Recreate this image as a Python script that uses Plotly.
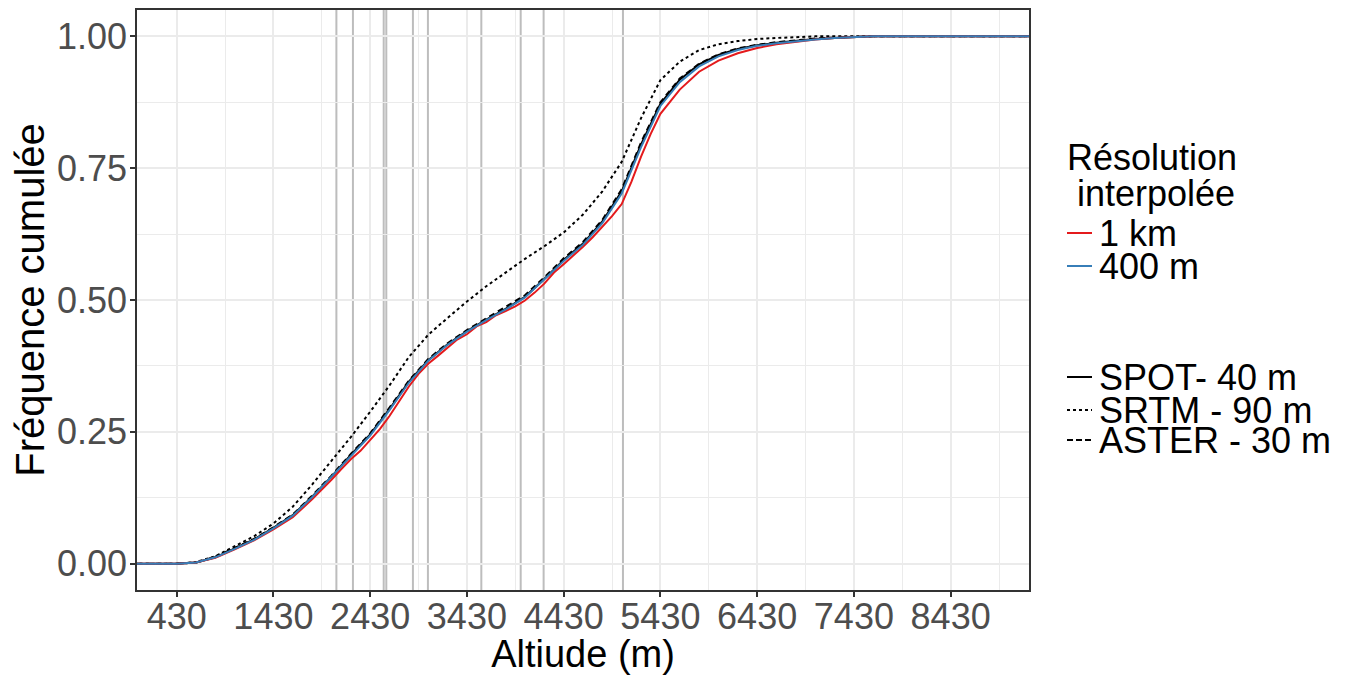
import plotly.graph_objects as go

# ---- data ----
altitude = [-200, 430, 630, 830, 1030, 1230, 1430, 1630, 1830, 2030, 2230, 2430, 2630,
            2830, 3030, 3230, 3430, 3630, 3830, 4030, 4230, 4430, 4630, 4830, 5030,
            5230, 5430, 5630, 5830, 6030, 6230, 6430, 6630, 6830, 7030, 7230, 7430,
            7630, 8430, 9500]

spot_40m = [0, 0, 0.002, 0.012, 0.029, 0.046, 0.068, 0.092, 0.127, 0.165, 0.206, 0.245,
            0.293, 0.345, 0.386, 0.416, 0.441, 0.463, 0.483, 0.506, 0.540, 0.576, 0.607,
            0.649, 0.706, 0.795, 0.872, 0.918, 0.947, 0.965, 0.976, 0.983, 0.988, 0.992,
            0.995, 0.997, 0.999, 1.0, 1.0, 1.0]

srtm_90m = [0, 0, 0.003, 0.014, 0.033, 0.052, 0.076, 0.108, 0.150, 0.195, 0.240, 0.288,
            0.338, 0.392, 0.434, 0.466, 0.497, 0.526, 0.552, 0.578, 0.602, 0.628, 0.662,
            0.706, 0.762, 0.845, 0.917, 0.952, 0.974, 0.985, 0.991, 0.995, 0.997, 0.999,
            1.0, 1.0, 1.0, 1.0, 1.0, 1.0]

aster_30m = [0, 0, 0.002, 0.013, 0.030, 0.047, 0.069, 0.093, 0.129, 0.167, 0.208, 0.247,
             0.296, 0.347, 0.388, 0.418, 0.443, 0.465, 0.486, 0.509, 0.543, 0.579, 0.610,
             0.652, 0.710, 0.799, 0.875, 0.920, 0.948, 0.966, 0.977, 0.984, 0.989, 0.993,
             0.996, 0.998, 0.999, 1.0, 1.0, 1.0]

res_400m = [0, 0, 0.002, 0.012, 0.028, 0.045, 0.067, 0.091, 0.126, 0.164, 0.204, 0.243,
            0.291, 0.343, 0.385, 0.415, 0.440, 0.462, 0.482, 0.505, 0.539, 0.574, 0.605,
            0.646, 0.702, 0.790, 0.868, 0.913, 0.943, 0.962, 0.974, 0.982, 0.987, 0.991,
            0.994, 0.997, 0.999, 1.0, 1.0, 1.0]

# the 1 km curve is noisier: read on a finer altitude step
altitude_1km = [-200, 430, 630, 830, 1030, 1230, 1430, 1630, 1830, 1930, 2030, 2130, 2230,
                2330, 2430, 2530, 2630, 2730, 2830, 2930, 3030, 3130, 3230, 3330, 3430,
                3530, 3630, 3730, 3830, 3930, 4030, 4130, 4230, 4330, 4430, 4530, 4630,
                4730, 4830, 4930, 5030, 5130, 5230, 5330, 5430, 5630, 5830, 6030, 6230,
                6430, 6630, 6830, 7030, 7230, 7430, 7630, 8430, 9500]
res_1km = [0, 0, 0.002, 0.011, 0.027, 0.044, 0.065, 0.088, 0.122, 0.140, 0.159, 0.179,
           0.198, 0.214, 0.234, 0.255, 0.280, 0.308, 0.336, 0.360, 0.379, 0.394, 0.409,
           0.425, 0.435, 0.450, 0.458, 0.471, 0.479, 0.488, 0.499, 0.514, 0.531, 0.552,
           0.568, 0.584, 0.601, 0.619, 0.639, 0.659, 0.682, 0.724, 0.772, 0.815, 0.853,
           0.899, 0.933, 0.954, 0.968, 0.978, 0.985, 0.990, 0.994, 0.997, 0.999, 1.0,
           1.0, 1.0]

reference_altitudes = [2081, 2252, 2570, 2597, 2872, 3027, 3579, 3986, 4223, 5043]

x_tickvals = [430, 1430, 2430, 3430, 4430, 5430, 6430, 7430, 8430]
y_tickvals = [0, 0.25, 0.5, 0.75, 1.0]
y_ticktext = ["0.00", "0.25", "0.50", "0.75", "1.00"]

legend_title_lines = ["Résolution", " interpolée"]
legend_items = [("1 km", "#E41A1C", "solid"),
                ("400 m", "#377EB8", "solid"),
                ("SPOT- 40 m", "#000000", "solid"),
                ("SRTM - 90 m", "#000000", "dot"),
                ("ASTER - 30 m", "#000000", "6px,3px")]

# ---- styles / layout geometry ----
FONT = "Liberation Sans, Arial, Helvetica, sans-serif"
GRID = "#EBEBEB"
W, H = 1349, 667               # page body adds an 8px margin
L, R, T, B = 129, 328, 2, 85
PW, PH = W - L - R, H - T - B

def px_x(px):   # page px -> paper x
    return (px - 8 - L) / PW

def px_y(py):   # page px -> paper y
    return (H - B - (py - 8)) / PH

fig = go.Figure()

fig.add_trace(go.Scatter(x=altitude, y=spot_40m, mode="lines", name="SPOT- 40 m",
                         line=dict(color="#000000", width=2, dash="solid"), showlegend=False))
fig.add_trace(go.Scatter(x=altitude, y=srtm_90m, mode="lines", name="SRTM - 90 m",
                         line=dict(color="#000000", width=2, dash="dot"), showlegend=False))
fig.add_trace(go.Scatter(x=altitude, y=aster_30m, mode="lines", name="ASTER - 30 m",
                         line=dict(color="#000000", width=2, dash="6px,4px"), showlegend=False))
fig.add_trace(go.Scatter(x=altitude_1km, y=res_1km, mode="lines", name="1 km",
                         line=dict(color="#E41A1C", width=2), showlegend=False))
fig.add_trace(go.Scatter(x=altitude, y=res_400m, mode="lines", name="400 m",
                         line=dict(color="#377EB8", width=2), showlegend=False))

for v in reference_altitudes:
    fig.add_shape(type="line", xref="x", yref="paper", x0=v, x1=v, y0=0, y1=1,
                  line=dict(color="#BDBDBD", width=2), layer="between")

# ---- legend (ggplot style, drawn with text annotations and key lines) ----
LEG_FS = 36
title_y = [157, 194]
for txt, ty in zip(legend_title_lines, title_y):
    fig.add_annotation(text=txt, xref="paper", yref="paper", x=px_x(1065), y=px_y(ty),
                       xanchor="left", yanchor="middle", showarrow=False,
                       font=dict(size=LEG_FS, color="black", family=FONT))
item_y = [233, 266, 377, 410, 440]
for (name, color, dash), iy in zip(legend_items, item_y):
    fig.add_shape(type="line", xref="paper", yref="paper",
                  x0=px_x(1067), x1=px_x(1092), y0=px_y(iy), y1=px_y(iy),
                  line=dict(color=color, width=2, dash=dash))
    fig.add_annotation(text=name, xref="paper", yref="paper", x=px_x(1097), y=px_y(iy),
                       xanchor="left", yanchor="middle", showarrow=False,
                       font=dict(size=LEG_FS, color="black", family=FONT))

fig.update_layout(
    width=W, height=H,
    margin=dict(l=L, r=R, t=T, b=B, autoexpand=False),
    paper_bgcolor="white", plot_bgcolor="white",
    font=dict(family=FONT, color="black"),
    showlegend=False,
    xaxis=dict(
        range=[20, 9240], tickvals=x_tickvals, ticks="outside", ticklen=5,
        tickcolor="#333333", tickwidth=1.5, ticklabelstandoff=-11,
        tickfont=dict(size=36, color="#4D4D4D", family=FONT),
        showgrid=True, gridcolor=GRID, gridwidth=1.5,
        minor=dict(tick0=430, dtick=500, showgrid=True, gridcolor=GRID, gridwidth=0.8),
        zeroline=False, showline=True, linecolor="#333333", linewidth=1.5, mirror=True,
        automargin=False,
        title=dict(text="Altiude (m)", font=dict(size=38, color="black"), standoff=2),
    ),
    yaxis=dict(
        range=[-0.05, 1.05], tickvals=y_tickvals, ticktext=y_ticktext, ticks="outside",
        ticklen=5, tickcolor="#333333", tickwidth=1.5, ticklabelstandoff=-4,
        tickfont=dict(size=36, color="#4D4D4D", family=FONT),
        showgrid=True, gridcolor=GRID, gridwidth=1.5,
        minor=dict(tick0=0, dtick=0.125, showgrid=True, gridcolor=GRID, gridwidth=0.8),
        zeroline=False, showline=True, linecolor="#333333", linewidth=1.5, mirror=True,
        automargin=False,
        title=dict(text="Fréquence cumulée", font=dict(size=40, color="black"), standoff=6),
    ),
)

fig.write_html("out.html")
